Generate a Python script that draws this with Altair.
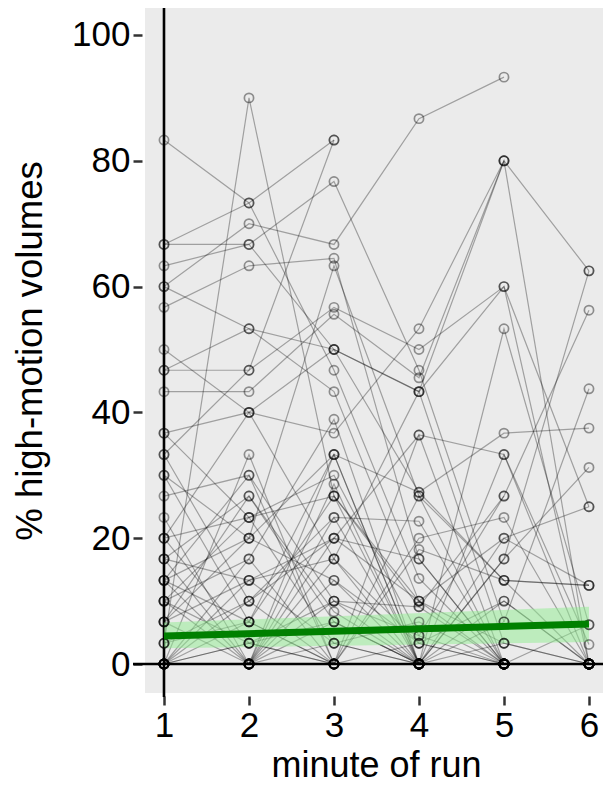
import altair as alt
import pandas as pd

# ---- data ----
minutes = [1, 2, 3, 4, 5, 6]
subjects = list(range(1, 57))

minute_1 = [83.3, 66.7, 66.7, 63.3, 60, 60, 56.7, 50, 46.7, 46.7, 43.3, 36.7, 36.7, 33.3, 33.3, 30,
            30, 26.7, 23.3, 20, 20, 20, 16.7, 16.7, 16.7, 13.3, 13.3, 13.3, 13.3, 10, 10, 10,
            10, 6.7, 6.7, 6.7, 6.7, 3.3, 3.3, 3.3, 0, 0, 0, 0, 0, 0, 0, 0,
            0, 0, 0, 0, 0, 0, 0, 0]
minute_2 = [73.3, 73.3, 66.7, 66.7, 70, 53.3, 63.3, 40, 53.3, 46.7, 43.3, 40, 23.3, 46.7, 10, 20,
            6.7, 30, 0, 40, 23.3, 3.3, 26.7, 0, 13.3, 30, 6.7, 20, 0, 16.7, 23.3, 3.3,
            0, 13.3, 26.7, 0, 20, 90, 10, 6.7, 16.7, 3.3, 0, 13.3, 0, 6.7, 0, 10,
            0, 0, 0, 0, 33.3, 3.3, 0, 0]
minute_3 = [46.7, 83.3, 50, 76.7, 66.7, 43.3, 64.5, 36.7, 50, 56.7, 55.6, 50, 30, 83.3, 20, 63.3,
            33.3, 10, 33.3, 16.7, 26.7, 0, 6.7, 23.3, 3.3, 0, 26.7, 13.3, 16.7, 38.9, 3.3, 10,
            28.6, 20, 8.3, 0, 33.3, 26.7, 23.3, 0, 0, 6.7, 20, 16.7, 0, 0, 6.7, 0,
            13.3, 0, 3.3, 10, 0, 0, 0, 0]
minute_4 = [13.6, None, 27.3, 46.7, 86.7, 10, 16.7, 53.3, 43.3, 50, 45.5, 43.3, 4.5, None, 36.4, 26.7,
            27.3, 9.1, 0, 3.3, 10, 36.4, 0, 22.7, 0, 20, 9.1, 3.3, 43.3, 0, 6.7, 4.5,
            0, 16.7, 0, 18.2, 0, 0, 0, 3.3, 0, 0, 10, 0, 0, 0, 0, 0,
            0, 26.7, 0, 0, 0, 0, 0, 0]
minute_5 = [0, None, 13.3, 6.7, 93.3, 3.3, 0, 80, 80, 60, 80, 60, 0, None, 33.3, 13.3,
            36.7, 26.7, 53.3, 0, 20, 0, 33.3, 0, 16.7, 23.3, 0, 10, 3.3, 20, 0, 26.7,
            6.7, 0, 3.3, 13.3, 0, 0, 16.7, 0, 10, 0, 0, 0, 0, None, 0, 0,
            0, 0, 0, 0, 0, 0, None, 0]
minute_6 = [0, None, 12.5, None, None, 0, 0, 62.5, 0, 25, None, 0, 0, None, 0, 12.5,
            37.5, 56.25, 6.25, 0, 12.5, 0, 3.1, None, 62.5, 0, 0, 0, None, 25, 0, None,
            43.75, 0, 0, 0, 6.25, 0, 31.25, None, 0, 0, None, 0, 0, None, 0, 0,
            0, 0, None, 0, 0, 0, None, 0]

# fitted trend and its confidence band (read at minute 1 and minute 6)
fit_minutes = [1, 6]
fit_values = [4.45, 6.36]
fit_lower = [2.5, 3.5]
fit_upper = [6.6, 9.1]

y_ticks = [0, 20, 40, 60, 80, 100]

# ---- tables ----
columns = [minute_1, minute_2, minute_3, minute_4, minute_5, minute_6]
rows = []
for i, s in enumerate(subjects):
    for m, col in zip(minutes, columns):
        v = col[i]
        if v is not None:
            rows.append({"subject": s, "minute": m, "pct": v})
df = pd.DataFrame(rows)
fit_df = pd.DataFrame({"minute": fit_minutes, "pct": fit_values,
                       "lo": fit_lower, "hi": fit_upper})

W, H = 458, 685
FONT = "Liberation Sans"
xscale = alt.Scale(domain=[0.7765, 6.165], nice=False, zero=False)
yscale = alt.Scale(domain=[-4.61, 104.29], nice=False, zero=False)

x_axis = alt.Axis(values=minutes, format="d", title="minute of run", grid=False, domain=False,
                  ticks=True, tickSize=9, tickWidth=2.5, tickColor="#333333", offset=3,
                  labelFont=FONT, labelFontSize=35, labelColor="black",
                  labelBaseline="alphabetic", labelPadding=31,
                  titleFont=FONT, titleFontSize=36, titleFontWeight="normal", titleColor="black",
                  titleBaseline="alphabetic", titleY=80, titleX=231, titleAlign="center")
y_axis = alt.Axis(values=y_ticks, title="% high-motion volumes", grid=False,
                  domain=False, ticks=True, tickSize=9, tickWidth=2.5, tickColor="#333333",
                  offset=3, labelFont=FONT, labelFontSize=35, labelColor="black", labelPadding=3,
                  titleFont=FONT, titleFontSize=36.5, titleFontWeight="normal", titleColor="black",
                  titleAngle=270, titleBaseline="alphabetic", titleAlign="center",
                  titleX=-101, titleY=H / 2)

X = alt.X("minute:Q", scale=xscale, axis=x_axis)
Y = alt.Y("pct:Q", scale=yscale, axis=y_axis)

base = alt.Chart(df)

vline = alt.Chart(pd.DataFrame({"minute": [1]})).mark_rule(color="black", strokeWidth=2.6).encode(
    x=X, y=alt.value(0), y2=alt.value(H + 4))
hline = alt.Chart(pd.DataFrame({"pct": [0]})).mark_rule(color="black", strokeWidth=2.6).encode(
    y=Y, x=alt.value(-12), x2=alt.value(W + 4))

lines = base.mark_line(color="black", strokeWidth=1.2, opacity=0.32).encode(
    x=X, y=Y, detail="subject:N")

band = alt.Chart(fit_df).mark_area(color="#90ee90", opacity=0.5).encode(
    x=X, y=alt.Y("lo:Q", scale=yscale, axis=y_axis), y2="hi:Q")

points = base.mark_point(shape="circle", filled=False, color="black", size=85,
                         strokeWidth=1.7, opacity=0.4).encode(x=X, y=Y)

fit = alt.Chart(fit_df).mark_line(color="#008000", strokeWidth=7, strokeCap="butt").encode(
    x=X, y=Y)

chart = alt.layer(lines, vline, hline, band, points, fit).properties(
    width=W, height=H,
    autosize=alt.AutoSizeParams(type="none"),
    padding={"left": 137, "top": 0, "right": 0, "bottom": 90},
).configure_view(fill="#ebebeb", stroke=None)

chart.save("out.html", embed_options={"renderer": "svg", "actions": False})
